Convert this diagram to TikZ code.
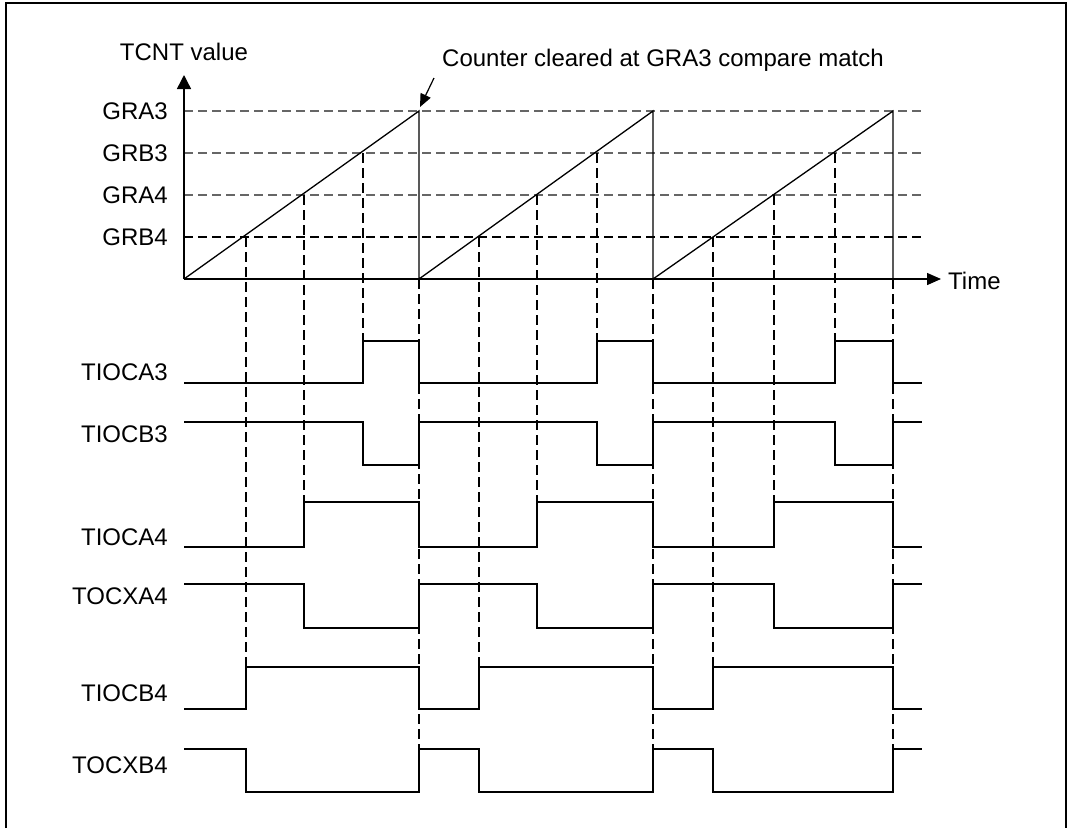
\documentclass[tikz,border=0pt]{standalone}
\usepackage{fontspec}
\setmainfont{Liberation Sans}
\usetikzlibrary{arrows.meta}

\begin{document}
\begin{tikzpicture}[
    x=1pt, y=-1pt,
    font=\fontsize{24}{28}\selectfont,
    wave/.style={line width=1.3pt},
    level/.style={dash pattern=on 9pt off 5pt, line width=1.1pt, draw=#1},
    guide/.style={dash pattern=on 10pt off 5pt, line width=1.1pt},
    lbl/.style={anchor=east, inner sep=0pt},
    axis/.style={line width=1.4pt, -{Triangle[length=14pt,width=#1]}}
]
    \useasboundingbox (0,0) rectangle (1074,828);
    \draw[line width=1.3pt] (6,828) -- (6,3) -- (1066,3) -- (1066,828);

    % axes
    \coordinate (origin) at (184,279);
    \coordinate (ytop) at (184,75);
    \coordinate (xend) at (941,279);
    \node (tcnt) at (184,52) {TCNT value};
    \node[anchor=west, inner sep=0pt] (time) at (948,281) {Time};

    % compare levels
    \node[lbl] (gra3) at (168,111) {GRA3};
    \node[lbl] (grb3) at (168,153) {GRB3};
    \node[lbl] (gra4) at (168,195) {GRA4};
    \node[lbl] (grb4) at (168,237) {GRB4};
    \draw[level=black!60] (184,111) -- (922,111);
    \draw[level=black!60] (184,153) -- (922,153);
    \draw[level=black!60] (184,195) -- (922,195);
    \draw[level=black] (184,237) -- (922,237);

    \draw[axis=14pt] (origin) -- (ytop);
    \draw[axis=12pt] (origin) -- (xend);

    % counter ramp
    \draw[wave] (origin) -- (419,111) -- (419,279) -- (653,111) -- (653,279) -- (893,111) -- (893,279);

    \node[anchor=west, inner sep=0pt] (note) at (442,60) {Counter cleared at GRA3 compare match};
    \coordinate (notefoot) at (434,78);
    \coordinate (peak) at (420,107);
    \draw[line width=1.2pt, -{Triangle[length=13pt,width=11pt]}] (notefoot) -- (peak);

    % match lines
    \draw[guide] (246,237) -- (246,667) (479,237) -- (479,667) (713,237) -- (713,667);
    \draw[guide] (304,195) -- (304,502) (537,195) -- (537,502) (774,195) -- (774,502);
    \draw[guide] (363,153) -- (363,341) (597,153) -- (597,341) (835,153) -- (835,341);
    \draw[guide] (419,279) -- (419,749) (653,279) -- (653,749) (893,279) -- (893,749);

    % outputs
    \node[lbl] (tioca3) at (168,372) {TIOCA3};
    \node[lbl] (tiocb3) at (168,434) {TIOCB3};
    \node[lbl] (tioca4) at (168,537) {TIOCA4};
    \node[lbl] (tocxa4) at (168,596) {TOCXA4};
    \node[lbl] (tiocb4) at (168,693) {TIOCB4};
    \node[lbl] (tocxb4) at (168,765) {TOCXB4};

    \draw[wave] (184,383) -| (363,341) -| (419,383) -| (597,341) -| (653,383) -| (835,341) -| (893,383) -- (922,383);
    \draw[wave] (184,422) -| (363,465) -| (419,422) -| (597,465) -| (653,422) -| (835,465) -| (893,422) -- (922,422);
    \draw[wave] (184,547) -| (304,502) -| (419,547) -| (537,502) -| (653,547) -| (774,502) -| (893,547) -- (922,547);
    \draw[wave] (184,584) -| (304,628) -| (419,584) -| (537,628) -| (653,584) -| (774,628) -| (893,584) -- (922,584);
    \draw[wave] (184,709) -| (246,667) -| (419,709) -| (479,667) -| (653,709) -| (713,667) -| (893,709) -- (922,709);
    \draw[wave] (184,749) -| (246,792) -| (419,749) -| (479,792) -| (653,749) -| (713,792) -| (893,749) -- (922,749);
\end{tikzpicture}
\end{document}
